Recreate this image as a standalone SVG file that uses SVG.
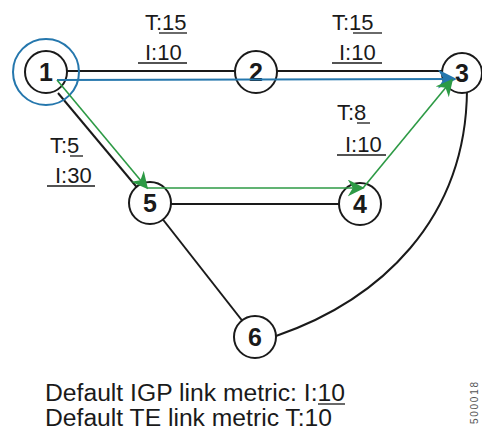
<svg xmlns="http://www.w3.org/2000/svg" width="482" height="431" viewBox="0 0 482 431">
<style>
.node circle{fill:#fff;stroke:#1a1a1a;stroke-width:2}
.node text{font-family:"Liberation Sans",Arial,sans-serif;font-weight:bold;font-size:25px;fill:#1a1a1a;text-anchor:middle}
.lbl{font-family:"Liberation Sans",Arial,sans-serif;font-size:22px;fill:#1a1a1a}
.ul{stroke:#1a1a1a;stroke-width:1.3}
.edge{stroke:#1a1a1a;stroke-width:2;fill:none}
.blue{stroke:#2577ad;stroke-width:2;fill:none}
.green{stroke:#2d9a45;stroke-width:1.6;fill:none}
</style>
<defs>
<marker id="ag" viewBox="0 0 10 10" refX="9" refY="5" markerWidth="17" markerHeight="17" markerUnits="userSpaceOnUse" orient="auto"><path d="M0,0 L10,5 L0,10 L3,5 Z" fill="#2d9a45"/></marker>
<marker id="ab" viewBox="0 0 10 10" refX="9" refY="5" markerWidth="19" markerHeight="19" markerUnits="userSpaceOnUse" orient="auto"><path d="M0,0 L10,5 L0,10 L3,5 Z" fill="#2577ad"/></marker>
</defs>
<g id="connectors">
<line class="edge" x1="46" y1="71" x2="462" y2="71"/>
<line class="edge" x1="58" y1="93" x2="150" y2="203"/>
<line class="edge" x1="150" y1="204" x2="360" y2="204"/>
<line class="edge" x1="150" y1="203" x2="255" y2="337"/>
<path class="edge" d="M276,336 C380,300 466,220 467,90"/>
</g>
<g id="node1" class="node"><circle cx="46" cy="72" r="21"/><text x="46" y="81">1</text></g>
<g id="node2" class="node"><circle cx="256" cy="72" r="21"/><text x="256" y="81">2</text></g>
<g id="node3" class="node"><circle cx="462" cy="73" r="20"/><text x="462" y="82">3</text></g>
<g id="node4" class="node"><circle cx="360" cy="204" r="21"/><text x="360" y="213">4</text></g>
<g id="node5" class="node"><circle cx="150" cy="203" r="21"/><text x="150" y="212">5</text></g>
<g id="node6" class="node"><circle cx="255" cy="337" r="21"/><text x="255" y="346">6</text></g>
<g id="paths">
<circle cx="46" cy="72" r="33" fill="none" stroke="#2577ad" stroke-width="2"/>
<line class="blue" x1="57" y1="80" x2="455" y2="79" marker-end="url(#ab)"/>
<line class="green" x1="57" y1="80" x2="147" y2="188" marker-end="url(#ag)"/>
<line class="green" x1="147" y1="188" x2="363" y2="188" marker-end="url(#ag)"/>
<line class="green" x1="363" y1="188" x2="452" y2="80" marker-end="url(#ag)"/>
</g>
<g id="labels">
<text class="lbl" x="145" y="30">T:15</text><line class="ul" x1="159" y1="33" x2="187" y2="33"/>
<text class="lbl" x="145" y="60">I:10</text><line class="ul" x1="138" y1="63" x2="187" y2="63"/>
<text class="lbl" x="332" y="30">T:15</text><line class="ul" x1="353" y1="33" x2="382" y2="33"/>
<text class="lbl" x="339" y="60">I:10</text><line class="ul" x1="332" y1="63" x2="382" y2="63"/>
<text class="lbl" x="50" y="153">T:5</text><line class="ul" x1="70" y1="156" x2="83" y2="156"/>
<text class="lbl" x="55" y="183">I:30</text><line class="ul" x1="47" y1="186" x2="95" y2="186"/>
<text class="lbl" x="337" y="120">T:8</text><line class="ul" x1="357" y1="123" x2="370" y2="123"/>
<text class="lbl" x="345" y="152">I:10</text><line class="ul" x1="337" y1="155" x2="386" y2="155"/>
<text class="lbl" x="45" y="401" style="font-size:23px" textLength="300" lengthAdjust="spacingAndGlyphs">Default IGP link metric: I:10</text><line class="ul" x1="318" y1="404" x2="345" y2="404"/>
<text class="lbl" x="45" y="426" style="font-size:23px" textLength="287" lengthAdjust="spacingAndGlyphs">Default TE link metric T:10</text>
<text x="0" y="0" transform="translate(478,403) rotate(-90)" textLength="42" style="font-family:'Liberation Sans',Arial,sans-serif;font-size:10px;fill:#555;text-anchor:middle">500018</text>
</g>
</svg>
